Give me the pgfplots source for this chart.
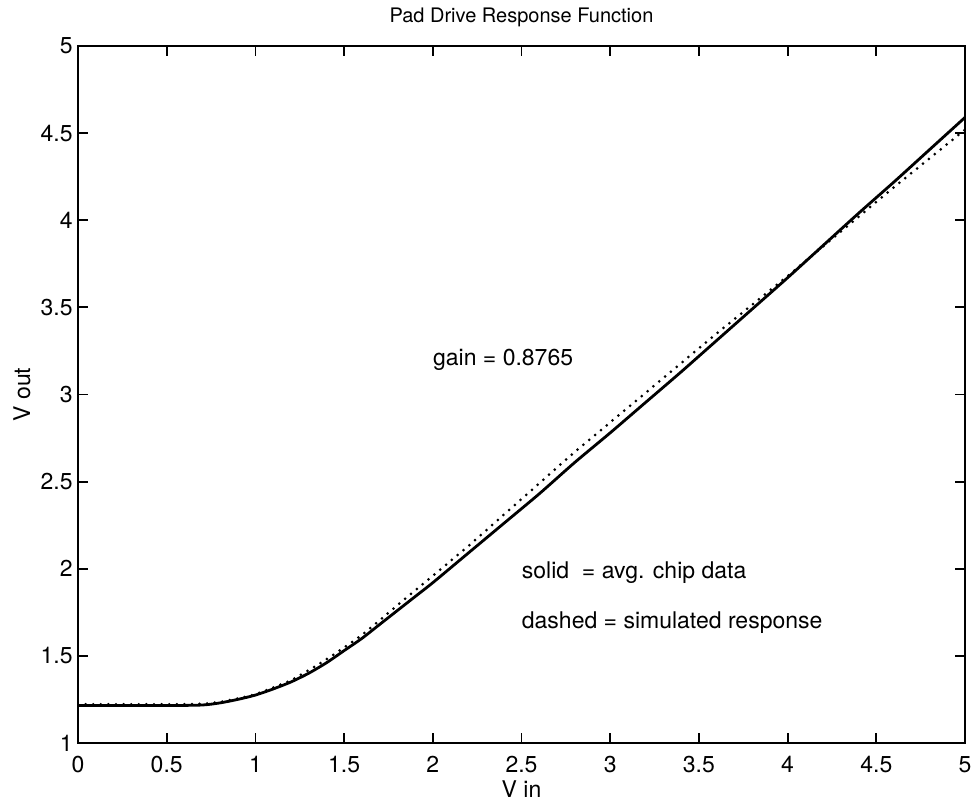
\documentclass[border=0pt]{standalone}
\usepackage{pgfplots}
\pgfplotsset{compat=1.18}
\usepackage{fontspec}
\setmainfont{TeX Gyre Heros}
\begin{document}
\begin{tikzpicture}
\begin{axis}[
  scale only axis, width=443.5pt, height=348.5pt,
  xmin=0, xmax=5, ymin=1, ymax=5,
  xtick={0,0.5,1,1.5,2,2.5,3,3.5,4,4.5,5},
  ytick={1,1.5,2,2.5,3,3.5,4,4.5,5},
  tick align=inside, major tick length=5pt,
  axis line style={line width=1pt},
  every tick/.style={black, line width=0.9pt},
  /pgf/number format/assume math mode=true,
  /pgf/number format/fixed,
  tick label style={font=\fontsize{11.5}{13}\selectfont},
  xticklabel style={anchor=base, yshift=-14.5pt, inner sep=0pt},
  yticklabel style={anchor=east, inner sep=0pt, xshift=-2.5pt},
  xlabel={V in}, ylabel={V out},
  xlabel style={at={(axis description cs:0.5,0)}, anchor=base, yshift=-27pt, inner sep=0pt, font=\fontsize{11.5}{13}\selectfont},
  ylabel style={at={(axis description cs:0,0.5)}, anchor=center, yshift=28pt, inner sep=0pt, font=\fontsize{11.5}{13}\selectfont},
  title={Pad Drive Response Function},
  title style={at={(axis description cs:0.5,1)}, anchor=base, yshift=5.5pt, inner sep=0pt, font=\fontsize{10}{12}\selectfont},
]
\addplot[black, line width=1.4pt, smooth, tension=0.4] coordinates {
(0,1.215) (0.5,1.215) (0.7,1.218) (0.8,1.23) (0.9,1.25) (1.0,1.275) (1.1,1.31) (1.2,1.35) (1.3,1.40) (1.4,1.46) (1.5,1.53) (1.6,1.60) (1.7,1.68) (1.8,1.76) (1.9,1.84) (2.0,1.92) (2.2,2.09) (2.4,2.26) (2.6,2.43) (2.8,2.61) (3.0,2.78) (3.2,2.955) (3.4,3.13) (3.6,3.31) (3.8,3.49) (4.0,3.67) (4.2,3.855) (4.4,4.04) (4.6,4.22) (4.8,4.405) (5.0,4.59)
};
\addplot[black, line width=1.5pt, line cap=round, dash pattern=on 0pt off 3.8pt, smooth, tension=0.4] coordinates {
(0,1.222) (0.5,1.222) (0.7,1.225) (0.8,1.235) (0.9,1.255) (1.0,1.28) (1.2,1.36) (1.4,1.48) (1.6,1.62) (1.8,1.79) (2.0,1.96) (2.2,2.13) (2.4,2.31) (2.6,2.49) (2.8,2.67) (3.0,2.84) (3.2,3.01) (3.4,3.18) (3.6,3.35) (3.8,3.515) (4.0,3.68) (4.2,3.85) (4.4,4.02) (4.6,4.19) (4.8,4.355) (5.0,4.52)
};
\node[anchor=west, inner sep=0pt, font=\fontsize{11.5}{13}\selectfont] at (axis cs:2,3.2) {gain = 0.8765};
\node[anchor=west, inner sep=0pt, font=\fontsize{11.5}{13}\selectfont] at (axis cs:2.5,1.98) {solid\ \ = avg. chip data};
\node[anchor=west, inner sep=0pt, font=\fontsize{11.5}{13}\selectfont] at (axis cs:2.5,1.69) {dashed = simulated response};
\end{axis}
\pgfresetboundingbox
\path ([shift={(-39pt,-29.5pt)}]current axis.south west) rectangle ([shift={(3.5pt,23pt)}]current axis.north east);
\end{tikzpicture}
\end{document}
